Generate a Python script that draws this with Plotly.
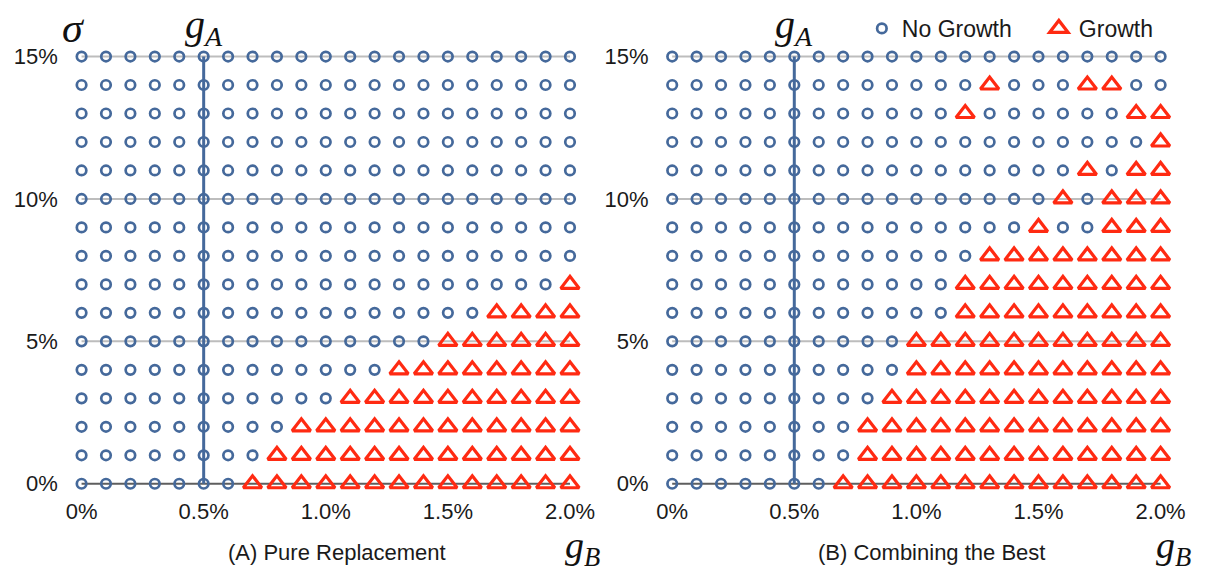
import plotly.graph_objects as go

# Growth rate of technology B (columns) and volatility sigma (rows, top to bottom)
g_b_values = [0.000, 0.001, 0.002, 0.003, 0.004, 0.005, 0.006, 0.007, 0.008, 0.009, 0.010,
              0.011, 0.012, 0.013, 0.014, 0.015, 0.016, 0.017, 0.018, 0.019, 0.020]
sigma_values = [0.15, 0.14, 0.13, 0.12, 0.11, 0.10, 0.09, 0.08,
                0.07, 0.06, 0.05, 0.04, 0.03, 0.02, 0.01, 0.00]
g_a_value = 0.005

# Outcome per (sigma, g_B) cell: "o" = no growth, "^" = growth
pure_replacement_map = [
    "ooooooooooooooooooooo",  # 15%
    "ooooooooooooooooooooo",  # 14%
    "ooooooooooooooooooooo",  # 13%
    "ooooooooooooooooooooo",  # 12%
    "ooooooooooooooooooooo",  # 11%
    "ooooooooooooooooooooo",  # 10%
    "ooooooooooooooooooooo",  # 9%
    "ooooooooooooooooooooo",  # 8%
    "oooooooooooooooooooo^",  # 7%
    "ooooooooooooooooo^^^^",  # 6%
    "ooooooooooooooo^^^^^^",  # 5%
    "ooooooooooooo^^^^^^^^",  # 4%
    "ooooooooooo^^^^^^^^^^",  # 3%
    "ooooooooo^^^^^^^^^^^^",  # 2%
    "oooooooo^^^^^^^^^^^^^",  # 1%
    "ooooooo^^^^^^^^^^^^^^",  # 0%
]
combining_best_map = [
    "ooooooooooooooooooooo",  # 15%
    "ooooooooooooo^ooo^^oo",  # 14%
    "oooooooooooo^oooooo^^",  # 13%
    "oooooooooooooooooooo^",  # 12%
    "ooooooooooooooooo^o^^",  # 11%
    "oooooooooooooooo^o^^^",  # 10%
    "ooooooooooooooo^oo^^^",  # 9%
    "ooooooooooooo^^^^^^^^",  # 8%
    "oooooooooooo^^^^^^^^^",  # 7%
    "oooooooooooo^^^^^^^^^",  # 6%
    "oooooooooo^^^^^^^^^^^",  # 5%
    "oooooooooo^^^^^^^^^^^",  # 4%
    "ooooooooo^^^^^^^^^^^^",  # 3%
    "oooooooo^^^^^^^^^^^^^",  # 2%
    "oooooooo^^^^^^^^^^^^^",  # 1%
    "ooooooo^^^^^^^^^^^^^^",  # 0%
]

x_tick_vals = [0.0, 0.005, 0.010, 0.015, 0.020]
x_tick_text = ["0%", "0.5%", "1.0%", "1.5%", "2.0%"]
y_tick_vals = [0.0, 0.05, 0.10, 0.15]
y_tick_text = ["0%", "5%", "10%", "15%"]
panel_titles = ["(A) Pure Replacement", "(B) Combining the Best"]

# ---- styling ----
W, H = 1216, 572
BLUE = "#45699b"
RED = "#ff2a12"
SANS = "Liberation Sans, Arial, sans-serif"
SERIF = "Liberation Serif, Times New Roman, serif"
TICK_FONT = dict(family=SANS, size=22, color="#1a1a1a")

X_RANGE = [-0.00093, 0.0206]
Y_RANGE = [-0.0042, 0.1528]
X_PX_PER_UNIT = 497 / 0.02
Y_PX_PER_UNIT = 431 / 0.15
PANEL_ORIGIN_PX = [83, 684]    # pixel column of g_B = 0 in each panel
Y_ZERO_PX = 484                # pixel row of sigma = 0


def x_domain(origin_px):
    left = origin_px + X_RANGE[0] * X_PX_PER_UNIT
    right = origin_px + X_RANGE[1] * X_PX_PER_UNIT
    return [left / W, right / W]


y_top_px = Y_ZERO_PX - Y_RANGE[1] * Y_PX_PER_UNIT
y_bot_px = Y_ZERO_PX - Y_RANGE[0] * Y_PX_PER_UNIT
Y_DOMAIN = [(H - y_bot_px) / H, (H - y_top_px) / H]


def split_cells(grid):
    no_x, no_y, gr_x, gr_y = [], [], [], []
    for sigma, row in zip(sigma_values, grid):
        for gb, cell in zip(g_b_values, row):
            if cell == "^":
                gr_x.append(gb)
                gr_y.append(sigma)
            else:
                no_x.append(gb)
                no_y.append(sigma)
    return no_x, no_y, gr_x, gr_y


fig = go.Figure()
shapes = []
annotations = []

for k, grid in enumerate([pure_replacement_map, combining_best_map]):
    xa = "x" if k == 0 else "x2"
    ya = "y" if k == 0 else "y2"
    no_x, no_y, gr_x, gr_y = split_cells(grid)

    fig.add_trace(go.Scatter(
        x=no_x, y=no_y, mode="markers", xaxis=xa, yaxis=ya,
        name="No Growth", showlegend=(k == 0), cliponaxis=False,
        marker=dict(symbol="circle-open", size=9.5, color=BLUE, line=dict(width=2.7, color=BLUE)),
    ))
    fig.add_trace(go.Scatter(
        x=gr_x, y=gr_y, mode="markers", xaxis=xa, yaxis=ya,
        name="Growth", showlegend=(k == 0), cliponaxis=False,
        marker=dict(symbol="triangle-up-open", size=16, color=RED, line=dict(width=3.2, color=RED)),
    ))

    # reference lines at 5%, 10%, 15% and the darker baseline at 0%
    for yv in y_tick_vals:
        shapes.append(dict(
            type="line", xref=xa, yref=ya, layer="below",
            x0=g_b_values[0], x1=g_b_values[-1], y0=yv, y1=yv,
            line=dict(color="#5e5e5e" if yv == 0 else "#bdbdbd", width=2),
        ))
    # vertical marker at g_A
    shapes.append(dict(
        type="line", xref=xa, yref=ya, layer="below",
        x0=g_a_value, x1=g_a_value, y0=sigma_values[-1], y1=sigma_values[0],
        line=dict(color=BLUE, width=3),
    ))

    dom = x_domain(PANEL_ORIGIN_PX[k])
    axis_common = dict(showgrid=False, zeroline=False, showline=False, ticks="")
    fig.update_layout(**{
        ("xaxis" if k == 0 else "xaxis2"): dict(
            domain=dom, range=X_RANGE, anchor=ya, tickvals=x_tick_vals, ticktext=x_tick_text,
            tickfont=TICK_FONT, **axis_common),
        ("yaxis" if k == 0 else "yaxis2"): dict(
            domain=Y_DOMAIN, range=Y_RANGE, anchor=xa, tickvals=y_tick_vals, ticktext=y_tick_text,
            tickfont=TICK_FONT, **axis_common),
    })

    # panel caption and axis symbols
    annotations.append(dict(
        text=panel_titles[k], xref=xa, yref="paper", x=0.0059, y=(H - 553) / H,
        xanchor="left", yanchor="middle", showarrow=False,
        font=dict(family=SANS, size=22, color="#1a1a1a"),
    ))
    annotations.append(dict(
        text="<i>g</i><sub><i>B</i></sub>", xref="paper", yref="paper",
        x=(PANEL_ORIGIN_PX[k] + 510) / W, y=(H - 549) / H,
        xanchor="center", yanchor="middle", showarrow=False,
        font=dict(family=SERIF, size=38, color="#111111"),
    ))
    annotations.append(dict(
        text="<i>g</i><sub><i>A</i></sub>", xref=xa, yref="paper",
        x=g_a_value, y=(H - 23) / H,
        xanchor="center", yanchor="middle", showarrow=False,
        font=dict(family=SERIF, size=40, color="#111111"),
    ))

annotations.append(dict(
    text="<i>σ</i>", xref="paper", yref="paper", x=75 / W, y=(H - 24) / H,
    xanchor="center", yanchor="middle", showarrow=False,
    font=dict(family=SERIF, size=42, color="#111111"),
))

fig.update_layout(
    width=W, height=H, margin=dict(l=0, r=0, t=0, b=0),
    paper_bgcolor="white", plot_bgcolor="white",
    shapes=shapes, annotations=annotations,
    showlegend=True,
    legend=dict(
        orientation="h", x=877 / W, y=(H - 3) / H, xanchor="left", yanchor="top",
        font=dict(family=SANS, size=23, color="#1a1a1a"),
        bgcolor="rgba(0,0,0,0)", itemwidth=30, tracegroupgap=0,
        entrywidth=132, entrywidthmode="pixels",
    ),
)

fig.write_html("out.html")
